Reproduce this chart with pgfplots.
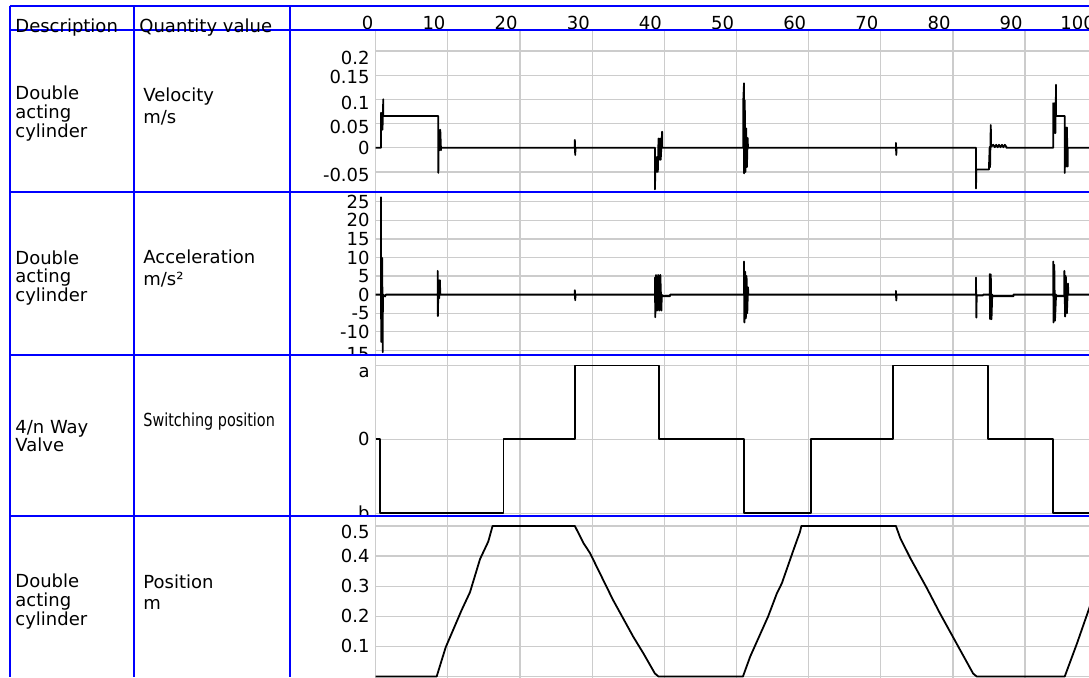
\documentclass[border=0pt]{standalone}
\usepackage{fontspec}
\setmainfont{DejaVu Sans}
\usepackage{pgfplots}
\pgfplotsset{compat=1.18}

\definecolor{tablecol}{rgb}{0,0,1}

% lower a tick label a little without moving its anchor
\newcommand{\dn}[2]{\raisebox{-#1}[\height][0pt]{#2}}

\pgfplotsset{
  panel/.style={
    scale only axis, width=360.75pt,
    xmin=0, xmax=100,
    anchor=north west,
    axis line style={draw=none},
    major tick length=0pt,
    tick style={draw=none},
    grid=major,
    major grid style={draw=black!20, line width=0.6pt},
    xtick={0,10,...,100},
    xticklabel=\empty,
    yticklabel style={anchor=east, inner sep=0pt, xshift=-2.85pt, font=\fontsize{9}{10}\selectfont},
  },
  trace/.style={black, line width=0.9pt, line join=round},
}

\begin{document}
\begin{tikzpicture}[x=0.5pt, y=-0.5pt, font=\fontsize{9}{10}\selectfont]
\useasboundingbox (0,0) rectangle (1089,677);
\clip (0,0) rectangle (1089,677);

\coordinate (P1) at (375.7,30);
\coordinate (P2) at (375.7,191.7);
\coordinate (P3) at (375.7,354.7);
\coordinate (P4) at (375.7,515.7);

% velocity
\begin{axis}[panel, at={(P1)}, height=80.85pt,
    ymin=-0.0909, ymax=0.2432,
    ytick={-0.05,0,0.05,0.1,0.15,0.2},
    yticklabels={\dn{1.6pt}{-0.05},0,\dn{1.7pt}{0.05},\dn{1.8pt}{0.1},\dn{1pt}{0.15},\dn{3.4pt}{0.2}},
    xticklabel pos=upper,
    xticklabels={0,10,20,30,40,50,60,70,80,90,100},
    xticklabel style={anchor=south east, inner sep=0pt, xshift=-1pt, font=\fontsize{9}{10}\selectfont},
]
\addplot[trace] coordinates {
(0,0) (0.73,0) (0.73,0.072) (0.8,0.037) (0.87,0.072) (0.94,0.037) (1.0,0.072) (1.05,0.1) (1.05,0.0655)
(8.68,0.0655) (8.68,-0.052) (8.75,0.037) (8.85,-0.005) (8.95,0.037) (9.05,-0.005) (9.05,0)
(27.6,0) (27.6,0.016) (27.65,-0.015) (27.7,0)
(38.7,0) (38.7,-0.086) (38.8,-0.019) (38.9,-0.05) (39.0,-0.019) (39.1,-0.05) (39.2,0.019) (39.3,-0.025) (39.4,0.019) (39.5,-0.025) (39.7,0.033) (39.7,0)
(50.95,0) (50.95,0.098) (51.05,0.133) (51.05,-0.053) (51.15,0.098) (51.25,-0.05) (51.35,0.04) (51.45,-0.04) (51.55,0.02) (51.6,0)
(72.1,0) (72.1,0.01) (72.15,-0.015) (72.2,0)
(83.2,0) (83.2,-0.084) (83.25,-0.045) (85.0,-0.045) (85.0,-0.04) (85.1,0.002) (85.15,-0.04) (85.25,0.047) (85.3,0.002)
(85.6,0.006) (85.8,0.001) (86.0,0.006) (86.2,0.001) (86.4,0.006) (86.6,0.001) (86.8,0.006) (87.0,0.001) (87.2,0.006) (87.4,0.002) (87.4,0)
(93.9,0) (93.9,0.092) (94.0,0.03) (94.1,0.092) (94.2,0.03) (94.3,0.13) (94.3,0.0655)
(95.5,0.0655) (95.5,-0.052) (95.6,0.042) (95.7,-0.039) (95.8,0.042) (95.9,-0.039) (95.9,0) (100,0)
};
\end{axis}
\fill[white] (291,191.7) rectangle (1089,677);

% acceleration
\begin{axis}[panel, at={(P2)}, height=81.5pt,
    ymin=-16.18, ymax=27.71,
    ytick={-15,-10,-5,0,5,10,15,20,25},
    yticklabels={\dn{2pt}{-15},-10,-5,0,5,10,15,20,25},
]
\addplot[trace] coordinates {
(0,0) (0.73,0) (0.73,26.2) (0.76,-12.7) (0.8,9.9) (0.85,-12.7) (0.9,9.9) (0.97,-15.5) (1.0,0) (1.3,-0.5) (1.4,0)
(8.59,0) (8.59,6.4) (8.62,-5.8) (8.7,3.9) (8.8,-1) (8.9,3.9) (8.95,0)
(27.6,0) (27.6,1.2) (27.65,-1.5) (27.7,0)
(38.7,0) (38.7,4.6) (38.75,-6.1) (38.85,5.3) (39.0,-4.3) (39.15,5.3) (39.3,-4.3) (39.45,5.3) (39.6,-4.3) (39.65,0) (39.7,-0.4) (40.8,-0.4) (40.8,0)
(51.05,0) (51.05,8.9) (51.1,-7.5) (51.2,6.2) (51.3,-6.4) (51.4,5) (51.5,-5) (51.6,2) (51.65,0)
(72.1,0) (72.1,1) (72.15,-1.6) (72.2,0)
(83.2,0) (83.2,4.6) (83.25,-6.2) (83.3,-0.2) (84.2,-0.2) (84.2,0)
(85.1,0) (85.1,5.5) (85.15,-6.6) (85.25,5.5) (85.35,-6.6) (85.45,0) (85.5,-0.4) (88.4,-0.4) (88.4,0)
(93.9,0) (93.9,8.9) (93.95,-7.5) (94.05,8) (94.15,-7) (94.3,0) (94.35,-0.4) (95.45,-0.4)
(95.45,6.4) (95.55,-5.9) (95.65,5) (95.8,-5) (95.95,3) (96.0,0) (100,0)
};
\end{axis}
\fill[white] (291,354.7) rectangle (1089,677);

% switching position
\begin{axis}[panel, at={(P3)}, height=80.5pt,
    ymin=-1.035, ymax=1.146,
    ytick={-1,0,1},
    yticklabels={b,0,\dn{3.5pt}{a}},
]
\addplot[trace] coordinates {
(0,0) (0.6,0) (0.6,-1) (17.7,-1) (17.7,0) (27.6,0) (27.6,1) (39.3,1) (39.3,0)
(51.05,0) (51.05,-1) (60.3,-1) (60.3,0) (71.7,0) (71.7,1) (84.9,1) (84.9,0)
(93.9,0) (93.9,-1) (100,-1)
};
\end{axis}
\fill[white] (291,515.7) rectangle (1089,677);

% position
\begin{axis}[panel, at={(P4)}, height=81pt,
    ymin=-0.004, ymax=0.534,
    ytick={0,0.1,0.2,0.3,0.4,0.5},
    yticklabels={,0.1,0.2,0.3,0.4,\dn{3pt}{0.5}},
]
\addplot[trace] coordinates {
(0,0) (8.45,0) (9.7,0.097) (11.9,0.22) (13.07,0.28) (14.46,0.39) (15.6,0.448) (16.2,0.5)
(27.6,0.5) (28.8,0.443) (29.7,0.41) (32.9,0.254) (35.7,0.132) (37.1,0.077) (38.7,0.01) (39.2,0)
(50.9,0) (51.9,0.066) (54.4,0.2) (55.6,0.276) (56.3,0.31) (57.9,0.42) (58.8,0.48) (59.0,0.5)
(72.1,0.5) (72.7,0.46) (74.1,0.393) (76.4,0.293) (78.2,0.21) (80.5,0.11) (82.8,0.01) (83.3,0)
(95.5,0) (97.2,0.11) (98.9,0.227) (100,0.3)
};
\end{axis}

% table lines
\begin{scope}[tablecol, line width=1pt]
\foreach \y in {6,30,191.7,354.7,515.7} \draw (9.5,\y) -- (1089,\y);
\foreach \x in {9.5,134,290} \draw (\x,6) -- (\x,677);
\end{scope}

% table text
\begin{scope}[every node/.style={anchor=base west, inner sep=0pt}]
\node at (15,32) {Description};
\node at (139,32) {Quantity value};
% row 1
\node at (15,99.5) {Double};
\node at (15,118) {acting};
\node at (15,137) {cylinder};
\node at (143,101) {Velocity};
\node at (143,123) {m/s};
% row 2
\node at (15,264) {Double};
\node at (15,282) {acting};
\node at (15,301) {cylinder};
\node at (143,263) {Acceleration};
\node at (143,285) {m/s²};
% row 3
\node at (15,433) {4/n Way};
\node at (15,451) {Valve};
\node at (143,426) {\scalebox{0.8}[1]{Switching position}};
% row 4
\node at (15,587) {Double};
\node at (15,606) {acting};
\node at (15,625) {cylinder};
\node at (143,588) {Position};
\node at (143,609) {m};
\end{scope}
\end{tikzpicture}
\end{document}
